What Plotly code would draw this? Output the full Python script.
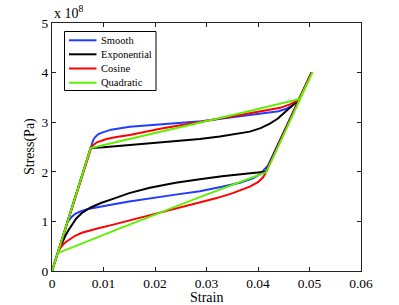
import plotly.graph_objects as go

# ---------------- data (stress in units of 1e8 Pa) ----------------
smooth_strain = [0, 0.0075, 0.0076, 0.0078, 0.0080, 0.0083, 0.0086, 0.0090, 0.0100, 0.0115,
                 0.0151, 0.0210, 0.0290, 0.0350, 0.0400, 0.0440, 0.0455, 0.0467, 0.0474, 0.0479,
                 0.0504,
                 0.0419, 0.0415, 0.0410, 0.0404, 0.0390, 0.0365, 0.0330, 0.0287, 0.0240, 0.0190,
                 0.0150, 0.0117, 0.0090, 0.0070, 0.0055, 0.0045, 0.0039, 0.0034, 0.0030, 0]
smooth_stress = [0, 2.48, 2.53, 2.59, 2.64, 2.69, 2.73, 2.76, 2.80, 2.85,
                 2.91, 2.96, 3.02, 3.10, 3.16, 3.22, 3.27, 3.34, 3.40, 3.45,
                 4.00,
                 2.12, 2.08, 2.02, 1.95, 1.87, 1.78, 1.70, 1.61, 1.54, 1.47,
                 1.40, 1.34, 1.29, 1.25, 1.20, 1.15, 1.10, 1.05, 0.99, 0]

expo_strain = [0, 0.0075, 0.0100, 0.0151, 0.0210, 0.0287, 0.0326, 0.0360, 0.0384, 0.0405,
               0.0423, 0.0438, 0.0449, 0.0465, 0.0479, 0.0504,
               0.0415, 0.0390, 0.0365, 0.0330, 0.0287, 0.0240, 0.0190, 0.0150, 0.0117,
               0.0095, 0.0075, 0.0058, 0.0047, 0.0039, 0.0032, 0.0026, 0.0021, 0.0017,
               0.0014, 0.0011, 0]
expo_stress = [0, 2.48, 2.495, 2.54, 2.60, 2.66, 2.71, 2.76, 2.81, 2.88,
               2.97, 3.07, 3.17, 3.31, 3.45, 4.00,
               2.00, 1.975, 1.95, 1.91, 1.85, 1.78, 1.68, 1.57, 1.45,
               1.37, 1.28, 1.17, 1.06, 0.94, 0.82, 0.71, 0.61, 0.52,
               0.44, 0.36, 0]

cos_strain = [0, 0.0075, 0.0077, 0.0079, 0.0083, 0.0088, 0.0095, 0.0106, 0.0125, 0.0151,
              0.0210, 0.0290, 0.0340, 0.0384, 0.0420, 0.0443, 0.0462, 0.0479, 0.0504,
              0.0416, 0.0414, 0.0409, 0.0400, 0.0384, 0.0351, 0.0320, 0.0287, 0.0250,
              0.0210, 0.0160, 0.0117, 0.0090, 0.0070, 0.0058, 0.0045, 0.0035, 0.0029,
              0.0024, 0.0020, 0.0016, 0.0013, 0.0011, 0]
cos_stress = [0, 2.48, 2.51, 2.53, 2.57, 2.60, 2.62, 2.66, 2.70, 2.74,
              2.87, 3.02, 3.10, 3.18, 3.25, 3.29, 3.36, 3.45, 4.00,
              2.00, 1.96, 1.88, 1.79, 1.70, 1.57, 1.47, 1.38, 1.28,
              1.17, 1.04, 0.93, 0.86, 0.81, 0.77, 0.71, 0.65, 0.60,
              0.56, 0.52, 0.46, 0.41, 0.36, 0]

quad_strain = [0, 0.0075, 0.0150, 0.0229, 0.0290, 0.0370, 0.0443, 0.0481, 0.0506,
               0.0416, 0.0287, 0.0210, 0.0117, 0.0011, 0]
quad_stress = [0, 2.48, 2.66, 2.86, 3.00, 3.19, 3.37, 3.47, 4.01,
               1.99, 1.49, 1.18, 0.80, 0.36, 0]

series_names = ["Smooth", "Exponential", "Cosine", "Quadratic"]
series_colors = ["#1f3cff", "#000000", "#ff0000", "#5ef000"]
series_data = [(smooth_strain, smooth_stress), (expo_strain, expo_stress),
               (cos_strain, cos_stress), (quad_strain, quad_stress)]

x_ticks = [0, 0.01, 0.02, 0.03, 0.04, 0.05, 0.06]
x_ticktext = ["0", "0.01", "0.02", "0.03", "0.04", "0.05", "0.06"]
y_ticks = [0, 1, 2, 3, 4, 5]
y_ticktext = ["0", "1", "2", "3", "4", "5"]
SCALE = 1e8

FONT = "Liberation Serif, Times New Roman, serif"

fig = go.Figure()
for name, color, (xs, ys) in zip(series_names, series_colors, series_data):
    fig.add_trace(go.Scatter(x=xs, y=[v * SCALE for v in ys], mode="lines", name=name,
                             line=dict(color=color, width=2), showlegend=False))

W, H = 399, 305
L, R, T, B = 52, 38, 23, 34
pw, ph = W - L - R, H - T - B

def px_x(p):
    return (p - L) / pw

def px_y(p):
    return (H - B - p) / ph

axis_common = dict(showgrid=False, zeroline=False, showline=True, linecolor="#222",
                   linewidth=1, mirror="ticks", ticks="inside", ticklen=4,
                   tickcolor="#222", tickfont=dict(family=FONT, size=13.5, color="black"))

fig.update_layout(
    width=W, height=H, margin=dict(l=L, r=R, t=T, b=B, pad=0),
    paper_bgcolor="white", plot_bgcolor="white",
    xaxis=dict(range=[0, 0.06], tickvals=x_ticks, ticktext=x_ticktext, **axis_common),
    yaxis=dict(range=[0, 5 * SCALE], tickvals=[v * SCALE for v in y_ticks],
               ticktext=y_ticktext, **axis_common),
    showlegend=False,
)

# axis titles and exponent label
fig.add_annotation(text="Strain", x=0.5, xref="paper", y=0, yref="paper", yshift=-26.5,
                   xanchor="center", yanchor="middle", showarrow=False,
                   font=dict(family=FONT, size=14, color="black"))
fig.add_annotation(text="Stress(Pa)", x=0, xref="paper", xshift=-22, y=0.5, yref="paper",
                   xanchor="center", yanchor="middle", textangle=-90, showarrow=False,
                   font=dict(family=FONT, size=14, color="black"))
fig.add_annotation(text="x 10<sup>8</sup>", x=0, xref="paper", y=1, yref="paper",
                   xanchor="left", yanchor="bottom", yshift=0, showarrow=False,
                   font=dict(family=FONT, size=14, color="black"))

# legend box (manual, MATLAB style)
fig.add_shape(type="rect", xref="paper", yref="paper",
              x0=px_x(64.5), x1=px_x(156), y0=px_y(90.5), y1=px_y(31.5),
              line=dict(color="black", width=1), fillcolor="white", layer="above")
entry_y = [40.3, 54.3, 68.5, 82.7]
for name, color, yy in zip(series_names, series_colors, entry_y):
    fig.add_shape(type="line", xref="paper", yref="paper",
                  x0=px_x(69), x1=px_x(96.5), y0=px_y(yy), y1=px_y(yy),
                  line=dict(color=color, width=2), layer="above")
    fig.add_annotation(text=name, xref="paper", yref="paper", x=px_x(98.5), y=px_y(yy),
                       xanchor="left", yanchor="middle", showarrow=False,
                       font=dict(family=FONT, size=10.5, color="black"))

fig.write_html("out.html", config={"displayModeBar": False},
               post_script="document.body.style.margin='0';document.body.style.padding='0';")
